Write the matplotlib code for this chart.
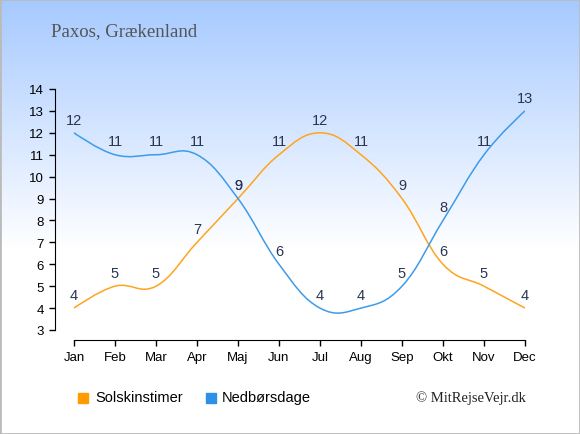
import numpy as np
import matplotlib
matplotlib.use("Agg")
import matplotlib.pyplot as plt
from matplotlib.path import Path
import matplotlib.patches as mpatches

months = ["Jan", "Feb", "Mar", "Apr", "Maj", "Jun", "Jul", "Aug", "Sep", "Okt", "Nov", "Dec"]
sun_hours = [4, 5, 5, 7, 9, 11, 12, 11, 9, 6, 5, 4]
rain_days = [12, 11, 11, 11, 9, 6, 4, 4, 5, 8, 11, 13]

SUN_C = "#FFA41C"
RAIN_C = "#3D9BE9"
LABEL_C = "#2A3650"

W, H = 580, 435


def spline_path(ax, xs, ys):
    # smooth curve through the points, control points computed in pixel space
    pts = ax.transData.transform(np.column_stack([xs, ys]))
    n = len(pts)
    sm, den = 1.5, 2.5
    lc, rc = [None] * n, [None] * n
    for i in range(1, n - 1):
        lx, ly = pts[i - 1]
        px, py = pts[i]
        nx, ny = pts[i + 1]
        lcx, lcy = (sm * px + lx) / den, (sm * py + ly) / den
        rcx, rcy = (sm * px + nx) / den, (sm * py + ny) / den
        if rcx != lcx:
            corr = (rcy - lcy) * (rcx - px) / (rcx - lcx) + py - rcy
            lcy += corr
            rcy += corr
        lc[i] = (lcx, lcy)
        rc[i] = (rcx, rcy)
    verts = [tuple(pts[0])]
    codes = [Path.MOVETO]
    for i in range(1, n):
        c1 = rc[i - 1] if rc[i - 1] is not None else tuple(pts[i - 1])
        c2 = lc[i] if lc[i] is not None else tuple(pts[i])
        verts += [c1, c2, tuple(pts[i])]
        codes += [Path.CURVE4] * 3
    inv = ax.transData.inverted()
    verts = inv.transform(np.array(verts))
    return Path(verts, codes)


fig = plt.figure(figsize=(W / 100, H / 100), dpi=100)

# background gradient
bg = fig.add_axes([0, 0, 1, 1])
grad = np.ones((H, 1, 3))
top = np.array([0.65, 0.79, 1.0])
for r in range(H):
    t = min(r / 250.0, 1.0)
    grad[r, 0] = top * (1 - t) + np.array([1.0, 1.0, 1.0]) * t
bg.imshow(grad, aspect="auto", extent=[0, 1, 0, 1])
bg.add_patch(mpatches.Rectangle((0, 0), 1, 1, fill=False, edgecolor="#BBBBBB", lw=2,
                                transform=bg.transAxes))
bg.axis("off")

fig.text(51 / W, 1 - 32 / H, "Paxos, Grækenland", family="Liberation Serif",
         fontsize=13.5, color="#555555", ha="left", va="center")

# axes geometry in pixels
x0, x1 = 55, 525
yb, yt = 341, 90
ax = fig.add_axes([x0 / W, 1 - yb / H, (x1 - x0) / W, (yb - yt) / H])
ax.patch.set_alpha(0)
unit_x = (525 - 74) / 11
unit_y = (331 - 90) / 11
ax.set_xlim(-(74 - 55) / unit_x, 11)
ax.set_ylim(3 - (341 - 331) / unit_y, 14)

x = np.arange(len(months))
for vals, col in [(sun_hours, SUN_C), (rain_days, RAIN_C)]:
    p = spline_path(ax, x, vals)
    ax.add_patch(mpatches.PathPatch(p, fill=False, edgecolor=col, lw=1.1))
    for xi, v in zip(x, vals):
        ax.annotate(str(v), (xi, v), xytext=(0, 4.5), textcoords="offset points",
                    ha="center", va="bottom", fontsize=10.5, color=LABEL_C,
                    family="Liberation Sans")

for s in ["top", "right"]:
    ax.spines[s].set_visible(False)
ax.spines["left"].set_bounds(3, 14)
ax.spines["bottom"].set_bounds(0, 11)
ax.set_yticks(range(3, 15))
ax.set_xticks(x)
ax.set_xticklabels(months)
ax.tick_params(length=4, width=1, labelsize=9.5, colors="black", pad=4)
for lab in ax.get_xticklabels() + ax.get_yticklabels():
    lab.set_family("Liberation Sans")

# legend
fig.add_artist(mpatches.Rectangle((78 / W, 1 - 404 / H), 10 / W, 10 / H,
                                  color="#FF9A00", transform=fig.transFigure))
fig.text(95 / W, 1 - 398 / H, "Solskinstimer", family="Liberation Sans",
         fontsize=10.5, va="center")
fig.add_artist(mpatches.Rectangle((206 / W, 1 - 404 / H), 10 / W, 10 / H,
                                  color="#2E90E6", transform=fig.transFigure))
fig.text(222 / W, 1 - 398 / H, "Nedbørsdage", family="Liberation Sans",
         fontsize=10.5, va="center")
fig.text(526 / W, 1 - 398 / H, "© MitRejseVejr.dk", family="Liberation Serif",
         fontsize=10.5, ha="right", va="center", color="#222222")

fig.savefig("out.png", dpi=100)
